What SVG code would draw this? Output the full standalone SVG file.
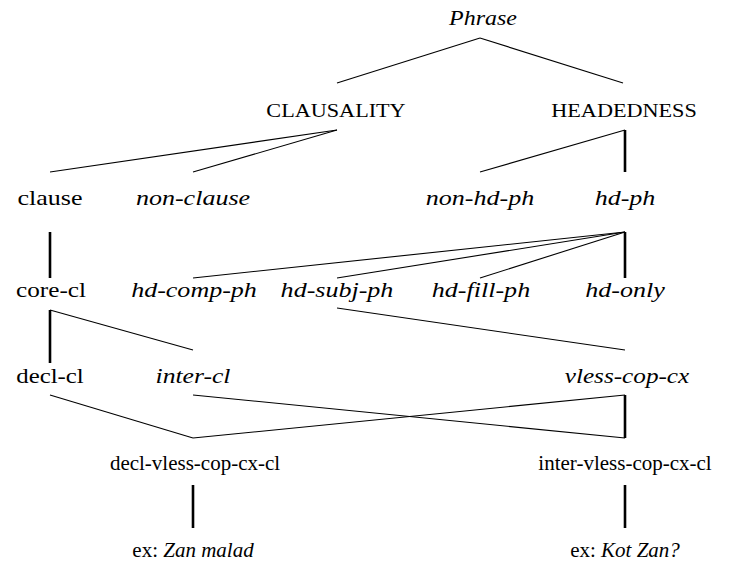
<svg xmlns="http://www.w3.org/2000/svg" width="736" height="572" viewBox="0 0 736 572">
<style>
text{font-family:"Liberation Serif","Times New Roman",serif;font-size:21px;fill:#000;text-anchor:middle}
.i{font-style:italic}
.sc{font-size:18.5px}
.t{stroke:#000;stroke-width:1.1;fill:none}
.k{stroke:#000;stroke-width:2.6;fill:none}
</style>
<rect width="736" height="572" fill="#fff"/>
<g id="connectors">
<line class="t" x1="480" y1="38" x2="337" y2="83"/>
<line class="t" x1="480" y1="38" x2="623" y2="83"/>
<line class="t" x1="337" y1="130" x2="50" y2="172"/>
<line class="t" x1="337" y1="130" x2="193" y2="172"/>
<line class="t" x1="625" y1="130" x2="480" y2="172"/>
<line class="k" x1="625" y1="130" x2="625" y2="172"/>
<line class="k" x1="50" y1="232" x2="50" y2="278"/>
<line class="t" x1="625" y1="232" x2="193" y2="278"/>
<line class="t" x1="625" y1="232" x2="337" y2="278"/>
<line class="t" x1="625" y1="232" x2="480" y2="278"/>
<line class="k" x1="625" y1="232" x2="625" y2="278"/>
<line class="k" x1="50" y1="310" x2="50" y2="363"/>
<line class="t" x1="50" y1="310" x2="193" y2="350"/>
<line class="t" x1="337" y1="308" x2="625" y2="350"/>
<line class="t" x1="50" y1="395" x2="193" y2="438"/>
<line class="t" x1="193" y1="395" x2="625" y2="438"/>
<line class="t" x1="625" y1="395" x2="193" y2="438"/>
<line class="k" x1="625" y1="395" x2="625" y2="438"/>
<line class="k" x1="193" y1="485" x2="193" y2="528"/>
<line class="k" x1="625" y1="485" x2="625" y2="528"/>
</g>
<g id="phrase"><text class="i" transform="translate(483,25) scale(1.14,1)">Phrase</text></g>
<g id="clausality"><text class="sc" transform="translate(336,117) scale(1.2,1)">CLAUSALITY</text></g>
<g id="headedness"><text class="sc" transform="translate(624,117) scale(1.2,1)">HEADEDNESS</text></g>
<g id="clause"><text transform="translate(50,205) scale(1.24,1)">clause</text></g>
<g id="non-clause"><text class="i" transform="translate(193,205) scale(1.24,1)">non-clause</text></g>
<g id="non-hd-ph"><text class="i" transform="translate(480,205) scale(1.24,1)">non-hd-ph</text></g>
<g id="hd-ph"><text class="i" transform="translate(625,205) scale(1.24,1)">hd-ph</text></g>
<g id="core-cl"><text transform="translate(51,297) scale(1.2,1)">core-cl</text></g>
<g id="hd-comp-ph"><text class="i" transform="translate(194,297) scale(1.24,1)">hd-comp-ph</text></g>
<g id="hd-subj-ph"><text class="i" transform="translate(337,297) scale(1.24,1)">hd-subj-ph</text></g>
<g id="hd-fill-ph"><text class="i" transform="translate(481,297) scale(1.24,1)">hd-fill-ph</text></g>
<g id="hd-only"><text class="i" transform="translate(625,297) scale(1.24,1)">hd-only</text></g>
<g id="decl-cl"><text transform="translate(50,383) scale(1.18,1)">decl-cl</text></g>
<g id="inter-cl"><text class="i" transform="translate(193,383) scale(1.22,1)">inter-cl</text></g>
<g id="vless-cop-cx"><text class="i" transform="translate(627,383) scale(1.2,1)">vless-cop-cx</text></g>
<g id="decl-vless-cop-cx-cl"><text x="195" y="470" font-size="21.5">decl-vless-cop-cx-cl</text></g>
<g id="inter-vless-cop-cx-cl"><text x="625" y="470">inter-vless-cop-cx-cl</text></g>
<g id="ex-decl"><text x="193" y="557">ex: <tspan class="i">Zan malad</tspan></text></g>
<g id="ex-inter"><text x="625" y="557">ex: <tspan class="i">Kot Zan?</tspan></text></g>
</svg>
